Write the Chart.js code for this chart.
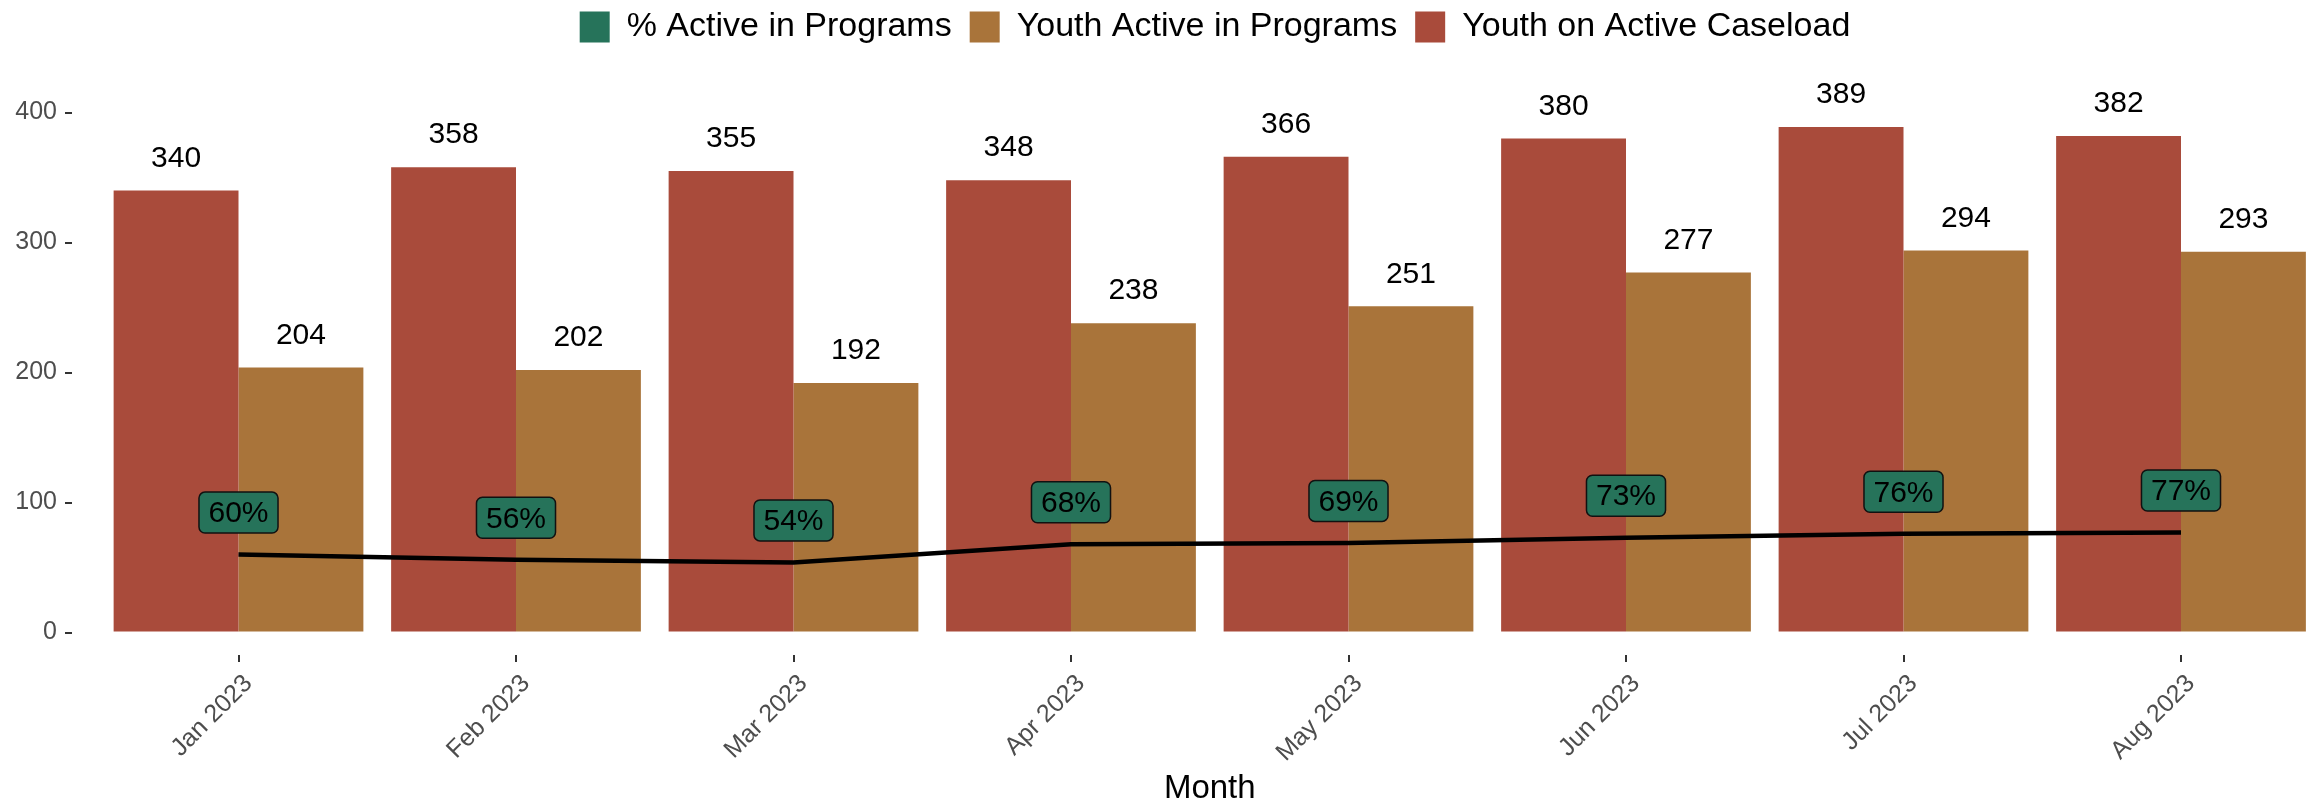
<!DOCTYPE html>
<html>
<head>
<meta charset="utf-8">
<script src="https://cdn.jsdelivr.net/npm/chart.js@4/dist/chart.umd.min.js"></script>
<style>
html, body { margin:0; padding:0; overflow:hidden; background:#ffffff; width:2323px; height:803px; }
#wrap { position:absolute; left:0; top:-8px; width:2394px; height:811px; }
</style>
</head>
<body>
<div id="wrap"><canvas id="c" width="2394" height="811"></canvas></div>
<script>
const months = ['Jan 2023','Feb 2023','Mar 2023','Apr 2023','May 2023','Jun 2023','Jul 2023','Aug 2023'];
const caseload = [340, 358, 355, 348, 366, 380, 389, 382];
const activeYouth = [204, 202, 192, 238, 251, 277, 294, 293];
const pctActive = [60, 56, 54, 68, 69, 73, 76, 77];
const yTickValues = [0, 100, 200, 300, 400];

const FONT = "'Liberation Sans', Arial, sans-serif";
const COL_RED = '#A94B3B';
const COL_ORANGE = '#A9743A';
const COL_GREEN = '#26735A';
const LEGEND_CENTER = 1215;

Chart.defaults.font.family = FONT;

const toPts = arr => arr.map((v, i) => ({ x: i, y: v }));

const labelPlugin = {
  id: 'valueLabels',
  afterLayout(chart) {
    const lg = chart.legend;
    if (lg) { lg.left = 2 * LEGEND_CENTER - lg.right; }
  },
  afterDatasetsDraw(chart) {
    const ctx = chart.ctx;
    ctx.save();
    ctx.font = '30px ' + FONT;
    ctx.textAlign = 'center';
    ctx.textBaseline = 'middle';
    ctx.fillStyle = '#000000';
    [1, 2].forEach(di => {
      const meta = chart.getDatasetMeta(di);
      const vals = chart.data.datasets[di].data;
      meta.data.forEach((el, i) => {
        ctx.fillText(String(vals[i].y), el.x, el.y - 32);
      });
    });
    const lineMeta = chart.getDatasetMeta(0);
    lineMeta.data.forEach((pt, i) => {
      const txt = pctActive[i] + '%';
      const w = ctx.measureText(txt).width + 19;
      const h = 41;
      const cx = pt.x, cy = pt.y - 42;
      ctx.beginPath();
      ctx.roundRect(cx - w / 2, cy - h / 2, w, h, 6);
      ctx.fillStyle = COL_GREEN;
      ctx.fill();
      ctx.lineWidth = 1.5;
      ctx.strokeStyle = '#111111';
      ctx.stroke();
      ctx.fillStyle = '#000000';
      ctx.fillText(txt, cx, cy + 1.5);
    });
    ctx.restore();
  }
};

const tickGrid = { display: true, offset: false, drawOnChartArea: false, drawTicks: true, tickLength: 7, color: '#333333', lineWidth: 2 };

new Chart(document.getElementById('c'), {
  type: 'bar',
  data: {
    datasets: [
      { type: 'line', label: '% Active in Programs', data: toPts(pctActive), borderColor: '#000000', backgroundColor: COL_GREEN,
        borderWidth: 4.5, pointRadius: 0, tension: 0, fill: false, order: 0 },
      { label: 'Youth on Active Caseload', data: toPts(caseload), backgroundColor: COL_RED,
        categoryPercentage: 0.9, barPercentage: 1, order: 1 },
      { label: 'Youth Active in Programs', data: toPts(activeYouth), backgroundColor: COL_ORANGE,
        categoryPercentage: 0.9, barPercentage: 1, order: 1 }
    ]
  },
  options: {
    responsive: false,
    animation: false,
    devicePixelRatio: 1,
    layout: { padding: { left: 0, right: 46.5, top: 0, bottom: 0 } },
    plugins: {
      tooltip: { enabled: false },
      legend: {
        display: true, position: 'top', align: 'center', fullSize: true,
        onClick: () => {},
        labels: {
          boxWidth: 30, boxHeight: 31, padding: 18, color: '#000000',
          font: { family: FONT, size: 34 },
          generateLabels: () => [
            { text: '% Active in Programs', fillStyle: COL_GREEN, strokeStyle: COL_GREEN, lineWidth: 0, hidden: false, datasetIndex: 0 },
            { text: 'Youth Active in Programs', fillStyle: COL_ORANGE, strokeStyle: COL_ORANGE, lineWidth: 0, hidden: false, datasetIndex: 2 },
            { text: 'Youth on Active Caseload', fillStyle: COL_RED, strokeStyle: COL_RED, lineWidth: 0, hidden: false, datasetIndex: 1 }
          ]
        }
      }
    },
    scales: {
      x: {
        type: 'linear', min: -0.6, max: 7.6, offset: false,
        grid: tickGrid,
        border: { display: false },
        ticks: {
          stepSize: 1, includeBounds: false, autoSkip: false,
          maxRotation: 45, minRotation: 45, labelOffset: 10, padding: 7,
          color: '#4d4d4d', font: { family: FONT, size: 25 },
          callback: v => (Number.isInteger(v) && months[v] !== undefined) ? months[v] : ''
        },
        title: { display: true, text: 'Month', color: '#000000', font: { family: FONT, size: 33, lineHeight: '29px' }, padding: { top: 0, bottom: 0 } },
        afterFit: s => { s.height = 148; }
      },
      y: {
        type: 'linear', min: -17.23, max: 445.08,
        grid: tickGrid,
        border: { display: false },
        ticks: {
          stepSize: 100, includeBounds: false, padding: 8,
          color: '#4d4d4d', font: { family: FONT, size: 25 },
          callback: v => yTickValues.includes(v) ? String(v) : ''
        },
        afterFit: s => { s.width = 72; }
      }
    }
  },
  plugins: [labelPlugin]
});
</script>
</body>
</html>
